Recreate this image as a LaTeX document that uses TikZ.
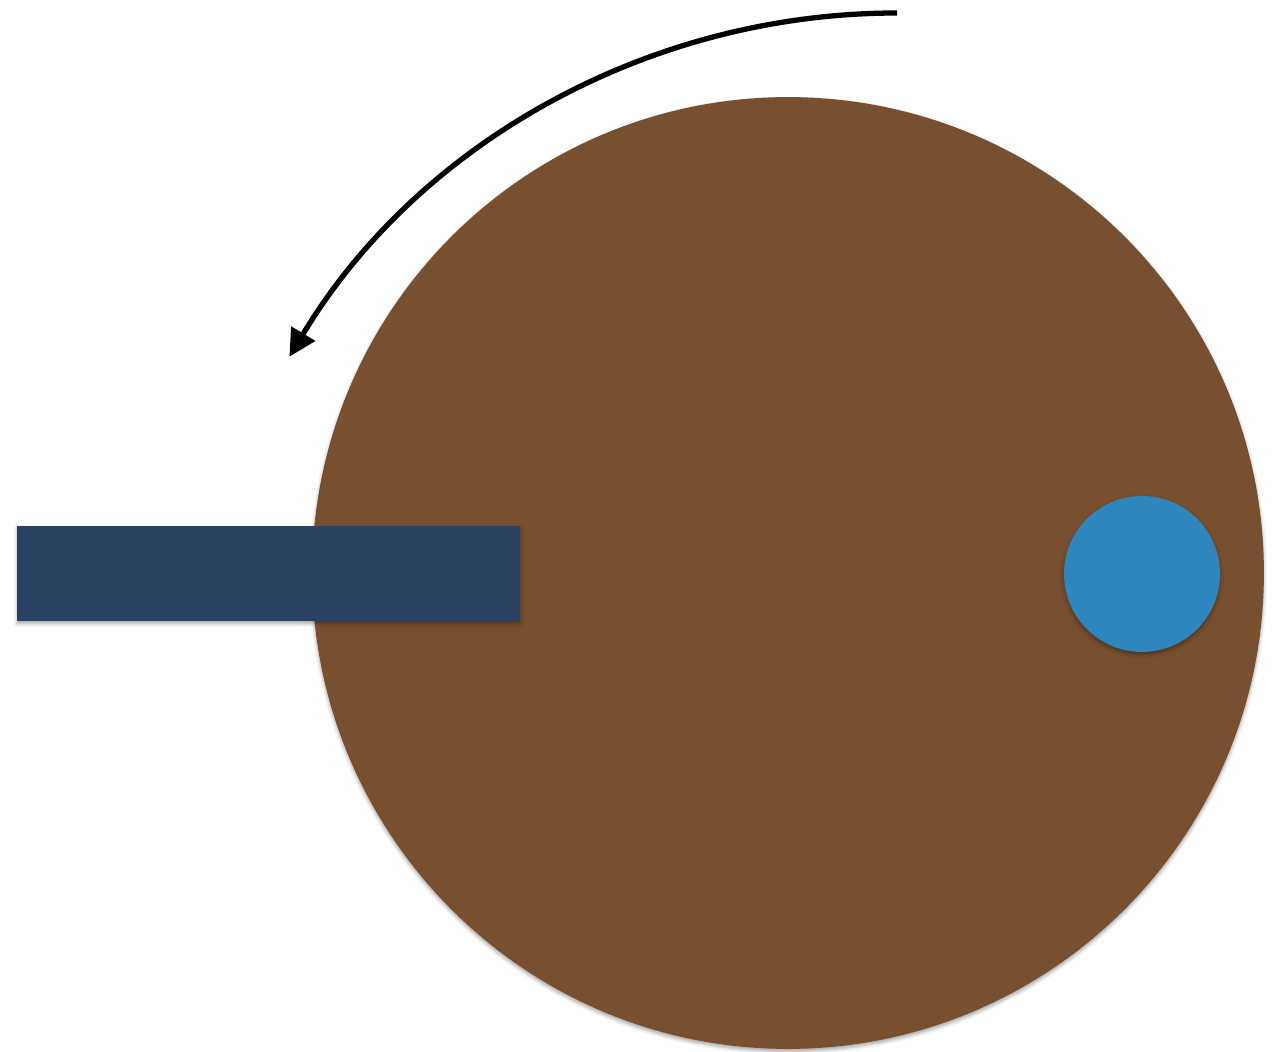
\documentclass[tikz,border=0pt]{standalone}
\usetikzlibrary{arrows.meta,shadows.blur}

\definecolor{discbrown}{HTML}{785030}
\definecolor{barblue}{HTML}{2C4263}
\definecolor{pinblue}{HTML}{2E86BC}

\begin{document}
\begin{tikzpicture}[x=0.02cm, y=0.02cm,
	felt/.style={draw=none, inner sep=0pt,
		blur shadow={shadow xshift=0pt, shadow yshift=-1.5pt, shadow blur radius=2pt, shadow opacity=35}},
	spin/.style={line width=3pt, -{Triangle[length=0.54cm, width=0.54cm]}}]

\useasboundingbox (0,0) rectangle (1272,1052);

% Disco
\node[felt, circle, fill=discbrown, minimum size=19.04cm] (disc) at (788,479) {};

% Barra y pasador
\node[felt, rectangle, fill=barblue, minimum width=10.06cm, minimum height=1.9cm] (bar) at (268.5,478.5) {};
\node[felt, circle, fill=pinblue, minimum size=3.12cm] (pin) at (1142,478) {};

% Sentido de giro
\coordinate (from) at (897,1039);
\draw[spin] (from) arc[start angle=90, end angle=149, radius=14.18cm];

\end{tikzpicture}
\end{document}
